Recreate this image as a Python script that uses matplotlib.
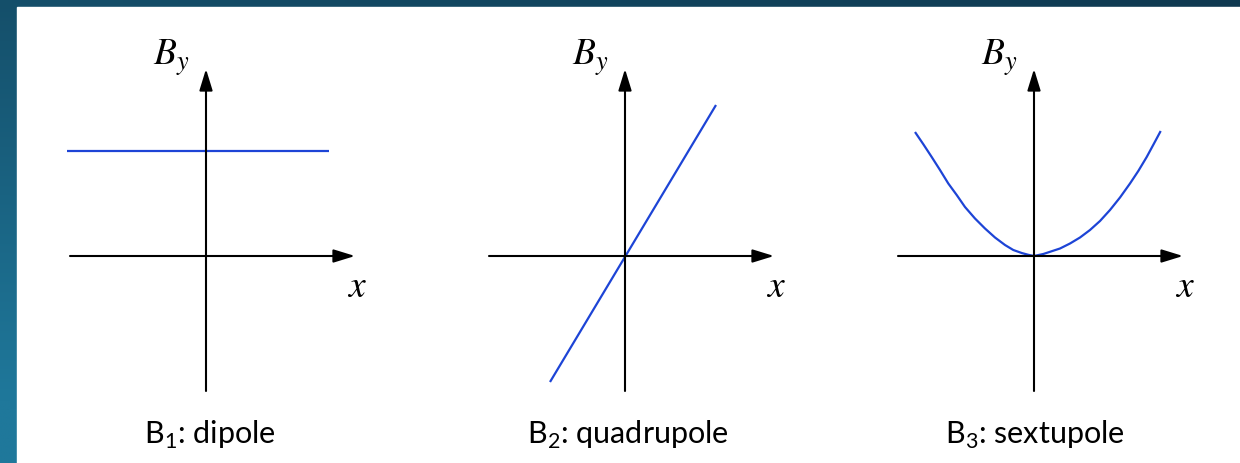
import numpy as np
import matplotlib
matplotlib.use("Agg")
import matplotlib.pyplot as plt

# ── data (units: 100 px from each panel origin) ─────────────────────────────
dipole_x = [-1.39, 1.23]
dipole_y = [1.05, 1.05]

quad_x = [-0.75, 0.91]
quad_y = [-1.26, 1.51]

sext_x = [-1.19, -1.107, -1.023, -0.94, -0.857, -0.773, -0.69, -0.59, -0.49,
          -0.39, -0.29, -0.207, -0.123, -0.057, 0.0,
          0.093, 0.16, 0.26, 0.36, 0.46, 0.56, 0.66, 0.76, 0.86, 0.96,
          1.043, 1.127, 1.2, 1.267]
sext_y = [1.24, 1.118, 0.99, 0.86, 0.725, 0.61, 0.49, 0.375, 0.275,
          0.185, 0.11, 0.06, 0.03, 0.012, 0.0,
          0.02, 0.042, 0.075, 0.125, 0.185, 0.26, 0.35, 0.46, 0.585, 0.725,
          0.85, 0.99, 1.125, 1.25]

titles = ["B$_\\mathregular{1}$: dipole",
          "B$_\\mathregular{2}$: quadrupole",
          "B$_\\mathregular{3}$: sextupole"]
origins_px = [206, 625, 1034]          # x pixel of each panel's y-axis
title_dx = [0.04, 0.03, 0.01]

BLUE = "#1d44d6"
W, H = 1240, 464

plt.rcParams["mathtext.fontset"] = "custom"
plt.rcParams["mathtext.rm"] = "Lato"

fig = plt.figure(figsize=(W / 100, H / 100), dpi=100)

# background gradient + white card
bg = fig.add_axes([0, 0, 1, 1], zorder=-10)
gx, gy = np.meshgrid(np.linspace(0, 1, 64), np.linspace(0, 1, 64))
t = np.clip(0.75 * gy + 0.35 * (1 - gx), 0, 1)   # 0 top-right, 1 bottom-left
c0 = np.array([0x0f, 0x39, 0x50]) / 255
c1 = np.array([0x1f, 0x78, 0x9b]) / 255
img = c0[None, None, :] * (1 - t[..., None]) + c1[None, None, :] * t[..., None]
bg.imshow(img, extent=[0, W, H, 0], aspect="auto", interpolation="bilinear")
bg.add_patch(plt.Rectangle((17, 8), W - 17, H - 8, color="white"))
bg.set_xlim(0, W)
bg.set_ylim(H, 0)
bg.axis("off")

arrow = dict(arrowstyle="-|>,head_length=0.65,head_width=0.2", color="black",
             lw=1.5, mutation_scale=20, shrinkA=0, shrinkB=0)

curves = [(dipole_x, dipole_y), (quad_x, quad_y), (sext_x, sext_y)]
for ox, (cx, cy), title, tdx in zip(origins_px, curves, titles, title_dx):
    left = (ox - 160) / W
    ax = fig.add_axes([left, 4 / H, 340 / W, 440 / H])
    ax.set_xlim(-1.6, 1.8)
    ax.set_ylim(-2.03, 2.37)
    ax.axis("off")

    # axes with arrow heads
    ax.annotate("", xy=(1.49, 0), xytext=(-1.36, 0), arrowprops=arrow)
    ax.annotate("", xy=(0, 1.87), xytext=(0, -1.35), arrowprops=arrow)

    ax.plot(cx, cy, color=BLUE, lw=1.6, solid_capstyle="butt",
            solid_joinstyle="round")

    ax.text(-0.35, 1.99, r"$B_y$", math_fontfamily="stix", fontsize=27,
            ha="center", va="center")
    ax.text(1.51, -0.30, r"$x$", math_fontfamily="stix", fontsize=27,
            ha="center", va="center")
    ax.text(tdx, -1.78, title, fontsize=22, family="Lato",
            ha="center", va="center")

fig.savefig("out.png", dpi=100)
